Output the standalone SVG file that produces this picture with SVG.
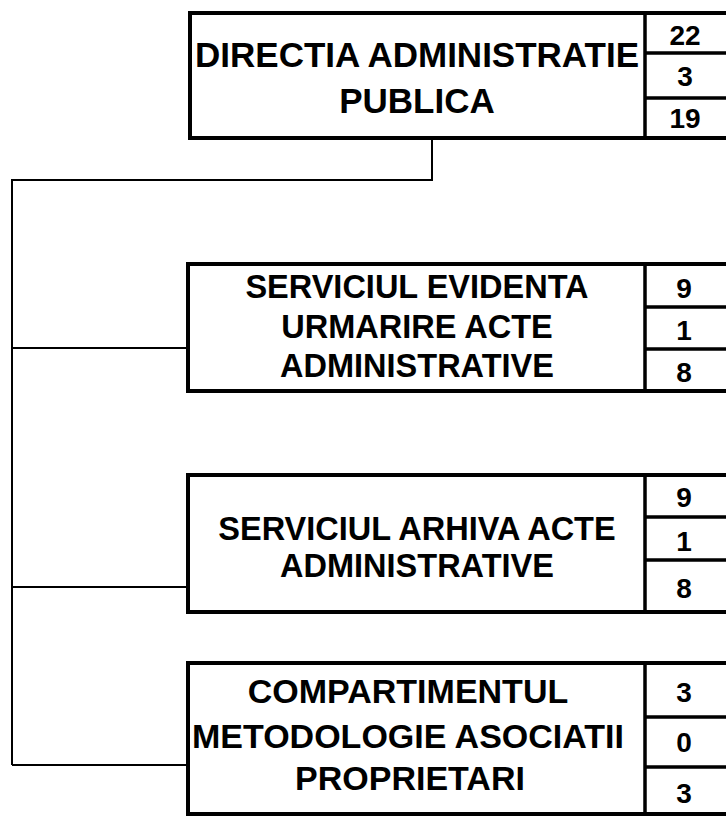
<svg xmlns="http://www.w3.org/2000/svg" width="726" height="816" viewBox="0 0 726 816">
<style>
.box{fill:#fff;stroke:#000;stroke-width:4}
.cell{stroke:#000;stroke-width:3.5;fill:none}
.conn{stroke:#000;stroke-width:2;fill:none}
.t{font-family:"Liberation Sans",Arial,sans-serif;font-weight:bold;font-size:32.5px;text-anchor:middle;fill:#000}
.n{font-family:"Liberation Sans",Arial,sans-serif;font-weight:bold;font-size:28px;text-anchor:middle;fill:#000}
</style>
<rect width="726" height="816" fill="#fff"/>
<g id="connectors">
<path class="conn" d="M432,138 V180 H12 V765"/>
<path class="conn" d="M12,348 H188"/>
<path class="conn" d="M12,587 H188"/>
<path class="conn" d="M12,765 H188"/>
</g>
<g id="node-directia">
<rect class="box" x="190" y="13" width="545" height="125"/>
<path class="cell" d="M645,13 V138 M645,53 H730 M645,98 H730"/>
<text class="t" x="417" y="67" style="font-size:35px">DIRECTIA ADMINISTRATIE</text>
<text class="t" x="417" y="113" style="font-size:35px">PUBLICA</text>
<text class="n" x="685" y="45">22</text>
<text class="n" x="685" y="86">3</text>
<text class="n" x="685" y="128">19</text>
</g>
<g id="node-evidenta">
<rect class="box" x="188" y="264" width="547" height="127"/>
<path class="cell" d="M645,264 V391 M645,307 H730 M645,349 H730"/>
<text class="t" x="417" y="298">SERVICIUL EVIDENTA</text>
<text class="t" x="417" y="338">URMARIRE ACTE</text>
<text class="t" x="417" y="377">ADMINISTRATIVE</text>
<text class="n" x="684" y="298">9</text>
<text class="n" x="684" y="340">1</text>
<text class="n" x="684" y="382">8</text>
</g>
<g id="node-arhiva">
<rect class="box" x="188" y="475" width="547" height="137"/>
<path class="cell" d="M645,475 V612 M645,517 H730 M645,560 H730"/>
<text class="t" x="417" y="540">SERVICIUL ARHIVA ACTE</text>
<text class="t" x="417" y="577">ADMINISTRATIVE</text>
<text class="n" x="684" y="507">9</text>
<text class="n" x="684" y="551">1</text>
<text class="n" x="684" y="598">8</text>
</g>
<g id="node-compartiment">
<rect class="box" x="188" y="663" width="547" height="151"/>
<path class="cell" d="M645,663 V814 M645,717 H730 M645,767 H730"/>
<text class="t" x="408" y="703" style="font-size:34px">COMPARTIMENTUL</text>
<text class="t" x="408" y="748" style="font-size:34px">METODOLOGIE ASOCIATII</text>
<text class="t" x="410" y="790" style="font-size:34px">PROPRIETARI</text>
<text class="n" x="684" y="702">3</text>
<text class="n" x="684" y="752">0</text>
<text class="n" x="684" y="803">3</text>
</g>
</svg>
